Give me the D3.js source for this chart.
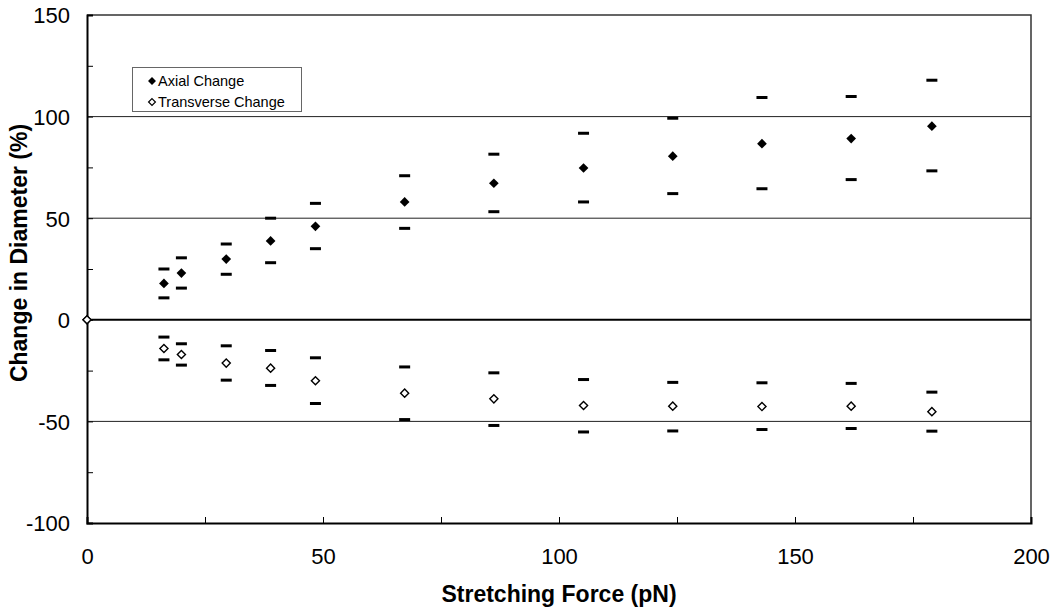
<!DOCTYPE html>
<html>
<head>
<meta charset="utf-8">
<script src="https://cdn.jsdelivr.net/npm/d3@7"></script>
<style>
  body { margin: 0; background: #fff; }
  text { font-family: "Liberation Sans", Arial, sans-serif; }
</style>
</head>
<body>
<div id="chart"></div>
<script>

// data
const force    = [0, 16.3, 20.0, 29.5, 38.9, 48.4, 67.3, 86.2, 105.2, 124.1, 143.0, 161.9, 179.0];
const axial    = [0, 17.9, 23.0, 29.9, 38.8, 46.0, 58.0, 67.2, 74.7, 80.5, 86.7, 89.2, 95.3];
const axialHi  = [null, 25.0, 30.5, 37.3, 50.0, 57.3, 70.9, 81.5, 91.8, 99.2, 109.4, 109.9, 117.9];
const axialLo  = [null, 10.8, 15.6, 22.4, 28.1, 35.0, 45.0, 53.2, 58.0, 62.1, 64.5, 69.0, 73.3];
const trans    = [0, -14.1, -17.1, -21.3, -23.8, -30.0, -36.1, -38.9, -42.2, -42.5, -42.7, -42.5, -45.2];
const transHi  = [null, -8.5, -11.8, -12.8, -15.1, -18.7, -23.2, -26.1, -29.4, -30.8, -31.0, -31.3, -35.6];
const transLo  = [null, -19.7, -22.3, -29.7, -32.3, -41.2, -49.1, -52.0, -55.2, -54.7, -54.0, -53.5, -54.8];

const xTicks = [0, 25, 50, 75, 100, 125, 150, 175, 200];
const yTicks = [-100, -75, -50, -25, 0, 25, 50, 75, 100, 125, 150];
const gridVals = [-50, 0, 50, 100];
const seriesNames = ["Axial Change", "Transverse Change"];

const width = 1058, height = 611;
const margin = {top: 15, right: 27, bottom: 88, left: 87};

const svg = d3.select("#chart").append("svg")
  .attr("width", width)
  .attr("height", height);

const x = d3.scaleLinear().domain([0, 200]).range([margin.left, width - margin.right]);
const y = d3.scaleLinear().domain([-100, 150]).range([height - margin.bottom, margin.top]);

// gridlines
svg.append("g")
  .selectAll("line")
  .data(gridVals)
  .join("line")
  .attr("x1", x(0)).attr("x2", x(200))
  .attr("y1", d => y(d)).attr("y2", d => y(d))
  .attr("stroke", d => d === 0 ? "#000" : "#222")
  .attr("stroke-width", d => d === 0 ? 2 : 1);

// top + right border
svg.append("path")
  .attr("d", `M${x(0)},${y(150)}H${x(200)}V${y(-100)}`)
  .attr("fill", "none")
  .attr("stroke", "#333")
  .attr("stroke-width", 1.5);

// axes
const xAxis = svg.append("g")
  .attr("transform", `translate(0,${y(-100)})`)
  .call(d3.axisBottom(x).tickValues(xTicks)
    .tickSize(-6).tickPadding(25)
    .tickFormat(d => d % 50 === 0 ? d : ""));

const yAxis = svg.append("g")
  .attr("transform", `translate(${x(0)},0)`)
  .call(d3.axisLeft(y).tickValues(yTicks)
    .tickSize(-6).tickPadding(17)
    .tickFormat(d => d % 50 === 0 ? d : ""));

[xAxis, yAxis].forEach(a => {
  a.select(".domain").attr("stroke", "#000").attr("stroke-width", 2);
  a.selectAll(".tick line").attr("stroke", "#000");
  a.selectAll(".tick text")
    .attr("fill", "#000")
    .style("font-size", "22px")
    .style("font-family", "'Liberation Sans', Arial, sans-serif");
});
yAxis.selectAll(".tick text").attr("dy", "0.36em");

// axis titles
svg.append("text")
  .attr("x", (x(0) + x(200)) / 2)
  .attr("y", 602)
  .attr("text-anchor", "middle")
  .style("font-size", "23px")
  .style("font-weight", "bold")
  .text("Stretching Force (pN)");

svg.append("text")
  .attr("transform", `translate(27,${253}) rotate(-90)`)
  .attr("text-anchor", "middle")
  .style("font-size", "23px")
  .style("font-weight", "bold")
  .text("Change in Diameter (%)");

// error bar dashes
const bars = [];
force.forEach((f, i) => {
  [axialHi[i], axialLo[i], transHi[i], transLo[i]].forEach(v => {
    if (v !== null) bars.push({f: f, v: v});
  });
});

svg.append("g")
  .selectAll("line")
  .data(bars)
  .join("line")
  .attr("x1", d => x(d.f) - 5.5).attr("x2", d => x(d.f) + 5.5)
  .attr("y1", d => y(d.v)).attr("y2", d => y(d.v))
  .attr("stroke", "#000")
  .attr("stroke-width", 3);

// markers
const diamond = d3.symbol().type(d3.symbolDiamond2);

svg.append("g")
  .selectAll("path")
  .data(force)
  .join("path")
  .attr("transform", (d, i) => `translate(${x(d)},${y(axial[i])})`)
  .attr("d", diamond.size(60)())
  .attr("fill", "#000");

svg.append("g")
  .selectAll("path")
  .data(force)
  .join("path")
  .attr("transform", (d, i) => `translate(${x(d)},${y(trans[i])})`)
  .attr("d", diamond.size(42)())
  .attr("fill", "#fff")
  .attr("stroke", "#000")
  .attr("stroke-width", 1.4);

// legend
const legend = svg.append("g");
legend.append("rect")
  .attr("x", 132.5).attr("y", 67.5)
  .attr("width", 169).attr("height", 44)
  .attr("fill", "#fff")
  .attr("stroke", "#666")
  .attr("stroke-width", 1);

const rows = legend.selectAll("g")
  .data(seriesNames)
  .join("g")
  .attr("transform", (d, i) => `translate(152,${81 + i * 21})`);

rows.append("path")
  .attr("d", (d, i) => diamond.size(i === 0 ? 40 : 30)())
  .attr("fill", (d, i) => i === 0 ? "#000" : "#fff")
  .attr("stroke", (d, i) => i === 0 ? "none" : "#000")
  .attr("stroke-width", 1.2);

rows.append("text")
  .attr("x", 6)
  .attr("y", 5)
  .style("font-size", "14.5px")
  .text(d => d);

</script>
</body>
</html>
